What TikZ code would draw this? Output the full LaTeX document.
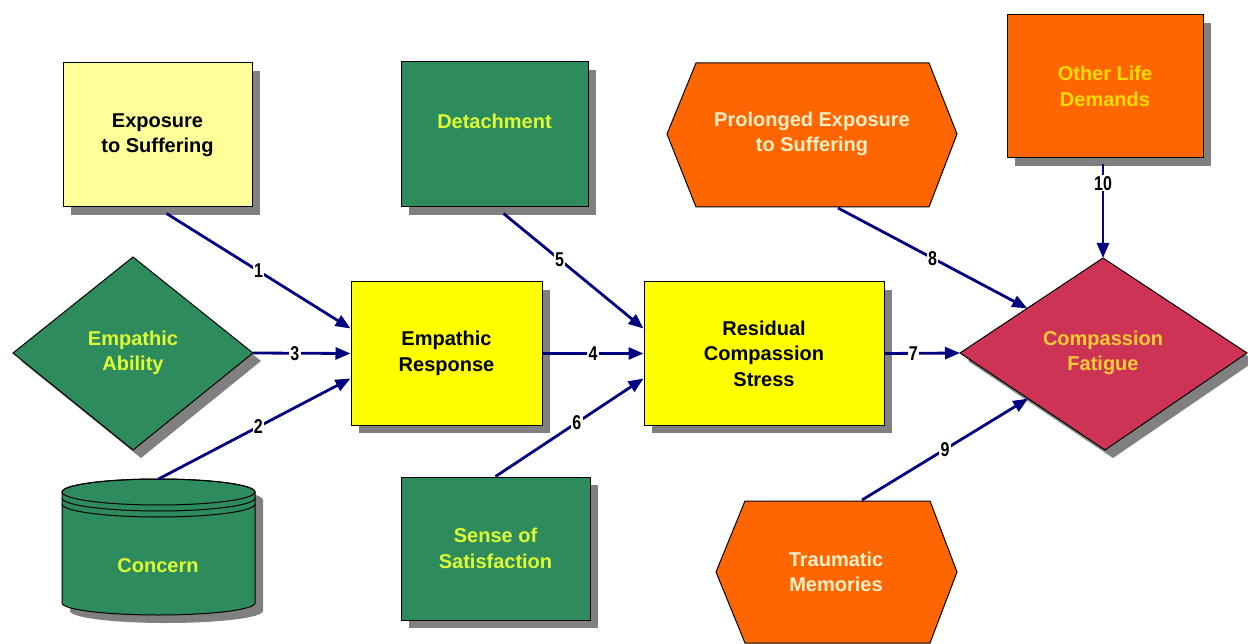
\documentclass[tikz,border=0pt]{standalone}
\usepackage{fontspec}
\setmainfont{Liberation Sans}
\newfontfamily\numfont{Liberation Sans}[FakeStretch=0.8]
\usetikzlibrary{arrows.meta,shadows,calc}
\definecolor{navy}{RGB}{0,0,128}
\definecolor{paleyel}{RGB}{255,255,153}
\definecolor{brightyel}{RGB}{255,255,0}
\definecolor{dkgreen}{RGB}{46,139,94}
\definecolor{limetxt}{RGB}{221,255,51}
\definecolor{orng}{RGB}{255,102,0}
\definecolor{crimson}{RGB}{204,51,85}
\definecolor{cream}{RGB}{255,240,200}
\definecolor{goldtxt}{RGB}{255,221,0}
\definecolor{cftxt}{RGB}{255,204,51}
\definecolor{shade}{RGB}{128,128,128}
\begin{document}
\begin{tikzpicture}[x=1pt,y=-1pt,
  shad/.style={drop shadow={shadow xshift=8pt,shadow yshift=-8pt,fill=shade,opacity=1}},
  box/.style={draw=black,line width=1pt,shad,align=center,font=\bfseries\fontsize{20}{25.5}\selectfont,inner sep=0pt},
  shapeline/.style={draw=black,line width=1pt},
  txt/.style={align=center,font=\bfseries\fontsize{20}{25.5}\selectfont,inner sep=0pt},
  conn/.style={draw=navy,line width=2.8pt,-{Triangle[length=15pt,width=12pt]}},
  num/.style={fill=white,inner sep=1.2pt,font=\numfont\bfseries\fontsize{20}{20}\selectfont,text=black},
]
\useasboundingbox (0,0) rectangle (1248,644);
\fill[white] (0,0) rectangle (1248,644);

% rectangles
\node[box,fill=paleyel,minimum width=189pt,minimum height=144pt] (exp) at (157.5,135) {Exposure\\to Suffering};
\node[box,fill=dkgreen,text=limetxt,minimum width=187pt,minimum height=145pt] (det) at (494.5,134.5) {Detachment\\\phantom{X}};
\node[box,fill=orng,text=goldtxt,minimum width=196pt,minimum height=143pt] (old) at (1105,86.5) {Other Life\\Demands};
\node[box,fill=brightyel,minimum width=191pt,minimum height=143pt] (er) at (446.5,353.5) {Empathic\\Response};
\node[box,fill=brightyel,minimum width=240pt,minimum height=143pt] (rcs) at (764,353.5) {Residual\\Compassion\\Stress};
\node[box,fill=dkgreen,text=limetxt,minimum width=189pt,minimum height=143pt] (sat) at (495.5,548.5) {Sense of\\Satisfaction};

% hexagons
\path[shapeline,fill=orng] (667,134)--(696,63)--(929,63)--(957,134)--(929,207)--(696,207)--cycle;
\node[txt,text=cream] (pes) at (812,134) {Prolonged Exposure\\to Suffering};
\coordinate (pesB) at (838,208);
\path[shapeline,fill=orng] (716,572)--(745,501)--(930,501)--(957,572)--(930,643)--(745,643)--cycle;
\node[txt,text=cream] (tm) at (836,572) {Traumatic\\Memories};
\coordinate (tmT) at (862,500);

% diamonds
\path[shapeline,shad,fill=dkgreen] (13,353)--(133,257)--(253,353)--(133,450)--cycle;
\node[txt,text=limetxt] (ea) at (133,353) {Empathic\\Ability};
\coordinate (eaR) at (253,353);
\path[shapeline,shad,fill=crimson] (960,353)--(1103,258)--(1247,353)--(1105,450)--cycle;
\node[txt,text=cftxt] (cf) at (1103,353) {Compassion\\Fatigue};
\coordinate (cfL) at (960,353);
\coordinate (cfT) at (1103,258);
\coordinate (cfB) at (1105,450);
\coordinate (cf8) at ($(cfL)!0.47!(cfT)$);
\coordinate (cf9) at ($(cfL)!0.47!(cfB)$);

% cylinder
\path[shapeline,shad,fill=dkgreen] (62,492) -- (62,603) arc[start angle=180,end angle=0,x radius=96.5,y radius=12] -- (255,492) arc[start angle=0,end angle=-180,x radius=96.5,y radius=13] -- cycle;
\draw[line width=1pt] (158.5,492) ellipse[x radius=96.5,y radius=13];
\draw[line width=1pt] (62,498) arc[start angle=180,end angle=0,x radius=96.5,y radius=13];
\draw[line width=1pt] (62,504) arc[start angle=180,end angle=0,x radius=96.5,y radius=13];
\node[txt,text=limetxt] (con) at (158,566) {Concern};
\coordinate (conT) at (158.5,479);

% connectors
\path[conn] ($(exp.south)+(9,6)$) -- ([yshift=25pt]er.west) node[num,pos=0.5]{1};
\path[conn] (conT) -- ([yshift=-25pt]er.west) node[num,pos=0.52]{2};
\path[conn] (eaR) -- (er.west) node[num,pos=0.43]{3};
\path[conn] (er.east) -- (rcs.west) node[num,pos=0.5]{4};
\path[conn] ($(det.south)+(9,6)$) -- ([yshift=25pt]rcs.west) node[num,pos=0.4]{5};
\path[conn] (sat.north) -- ([yshift=-25pt]rcs.west) node[num,pos=0.55]{6};
\path[conn] (rcs.east) -- (cfL) node[num,pos=0.38]{7};
\path[conn] (pesB) -- (cf8) node[num,pos=0.5]{8};
\path[conn] (tmT) -- (cf9) node[num,pos=0.5]{9};
\path[conn] ($(old.south)+(-2,6)$) -- (cfT) node[num,pos=0.2]{10};
\end{tikzpicture}
\end{document}
